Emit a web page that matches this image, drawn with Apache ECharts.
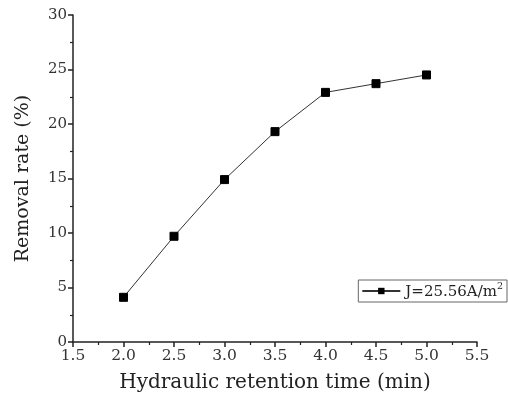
<!DOCTYPE html>
<html><head><meta charset="utf-8">
<script src="https://cdn.jsdelivr.net/npm/echarts@6/dist/echarts.min.js"></script>
<style>html,body{margin:0;padding:0;background:#fff}#c{width:508px;height:403px}</style>
</head><body><div id="c"></div>
<script>
const hrt = [2.0, 2.5, 3.0, 3.5, 4.0, 4.5, 5.0];
const removal = [4.1, 9.7, 14.9, 19.3, 22.9, 23.7, 24.5];
const seriesName = 'J=25.56A/m2';
const xTicks = [1.5, 5.5, 0.5];
const yTicks = [0, 30, 5];
const font = 'DejaVu Serif';
const chart = echarts.init(document.getElementById('c'));
chart.setOption({
  animation: false,
  backgroundColor: '#fff',
  grid: {left: 73, right: 31, top: 15, bottom: 61},
  xAxis: {
    type: 'value', min: xTicks[0], max: xTicks[1], interval: xTicks[2],
    name: 'Hydraulic retention time (min)', nameLocation: 'middle', nameGap: 31,
    nameTextStyle: {fontFamily: font, fontSize: 20, color: '#222'},
    axisLine: {lineStyle: {color: '#222', width: 1.5}},
    axisTick: {inside: false, length: 5, lineStyle: {color: '#222', width: 1.5}},
    minorTick: {show: true, splitNumber: 2, length: 3, lineStyle: {color: '#222', width: 1.2}},
    splitLine: {show: false},
    axisLabel: {fontFamily: font, fontSize: 15.5, color: '#333', margin: 6, formatter: v => v.toFixed(1)}
  },
  yAxis: {
    type: 'value', min: yTicks[0], max: yTicks[1], interval: yTicks[2],
    name: 'Removal rate (%)', nameLocation: 'middle', nameGap: 40,
    nameTextStyle: {fontFamily: font, fontSize: 19, color: '#222'},
    axisLine: {show: true, lineStyle: {color: '#222', width: 1.5}},
    axisTick: {show: true, inside: false, length: 5, lineStyle: {color: '#222', width: 1.5}},
    minorTick: {show: true, splitNumber: 2, length: 3, lineStyle: {color: '#222', width: 1.2}},
    splitLine: {show: false},
    axisLabel: {fontFamily: font, fontSize: 15, color: '#333', margin: 6}
  },
  legend: {
    right: 1, top: 280, orient: 'horizontal',
    borderColor: '#666', borderWidth: 1, padding: [2, 4, 2, 3],
    itemWidth: 38, itemHeight: 8, itemGap: 5,
    data: [{name: seriesName}],
    formatter: () => '{a|J=25.56A/m}{s|2}',
    textStyle: {
      rich: {
        a: {fontFamily: font, fontSize: 15, color: '#222', padding: [3, 0, 0, 0]},
        s: {fontFamily: font, fontSize: 9.5, color: '#222', verticalAlign: 'top', padding: [0, 0, 6, 0]}
      }
    }
  },
  series: [{
    name: seriesName, type: 'line',
    data: hrt.map((x, i) => [x, removal[i]]),
    symbol: 'rect', symbolSize: 8,
    lineStyle: {color: '#333', width: 1},
    itemStyle: {color: '#000', borderColor: '#000'}
  }]
});
</script></body></html>
